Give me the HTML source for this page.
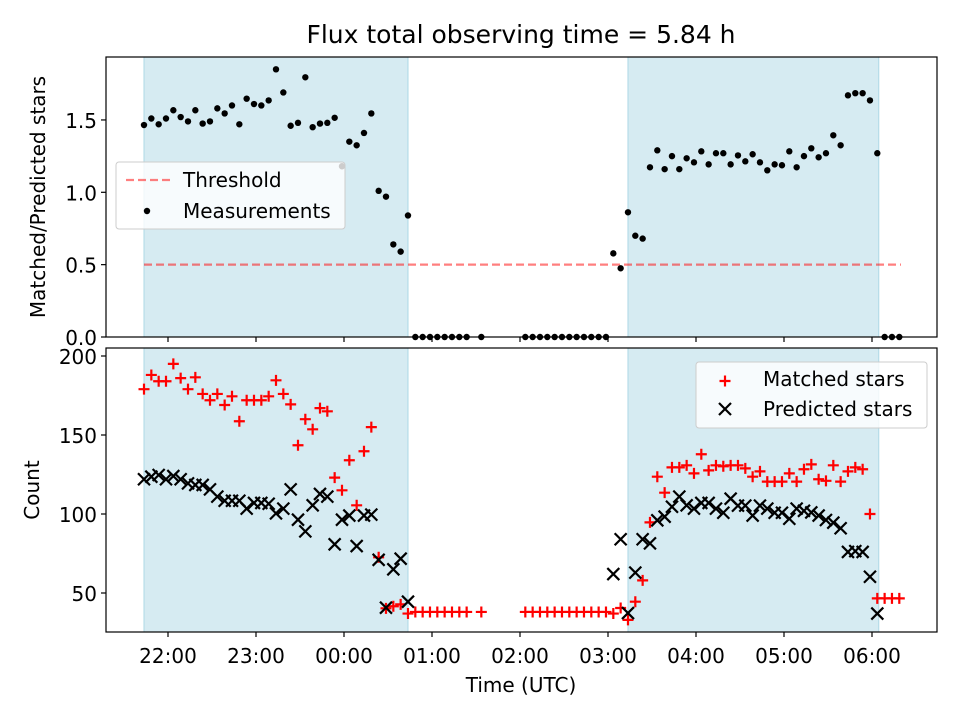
<!DOCTYPE html>
<html><head><meta charset="utf-8"><style>
html,body{margin:0;padding:0;background:#fff;}
svg text{font-family:"DejaVu Sans","Liberation Sans",sans-serif;fill:#000;}
</style></head><body>
<svg id="chart" width="960" height="720" xmlns="http://www.w3.org/2000/svg"></svg>
<script>
const N=null;
const ratio=[1.465,1.51,1.47,1.51,1.567,1.52,1.49,1.567,1.475,1.49,1.58,1.545,1.60,1.47,1.647,1.61,1.60,1.635,1.85,1.69,1.46,1.48,1.795,1.45,1.475,1.48,1.515,1.18,1.35,1.325,1.41,1.545,1.01,0.97,0.64,0.59,0.84,
0,0,0,0,0,0,0,0,N,0,N,N,N,N,N,0,0,0,0,0,0,0,0,0,0,0,0,
0.578,0.475,0.862,0.70,0.68,1.173,1.29,1.16,1.25,1.16,1.235,1.207,1.283,1.193,1.27,1.27,1.193,1.255,1.214,1.263,1.207,1.152,1.193,1.187,1.283,1.173,1.25,1.304,1.242,1.27,1.394,1.325,1.67,1.685,1.685,1.635,1.27,0,0,0];
const matched=[179,188,184,184,195,186,179,186.5,176,172,176,169,174.5,158.7,172,172,172,174.5,184.6,176,169.4,143.5,160,153.6,167,165,123,115,134,105.5,139.7,155,72.6,40.3,41.6,42.8,37,
38,38,38,38,38,38,38,38,N,38,N,N,N,N,N,38,38,38,38,38,38,38,38,38,38,38,38,
37,40.5,33,44.5,58,94.7,123.6,113.5,129.5,129.5,130.8,125.7,137.8,127.6,130.8,130.2,130.8,130.8,128.9,123.6,127,120.5,120.5,120.5,125.7,120.5,128.3,131.4,122,121,130.8,120.5,127,129.5,128.3,100,46.6,46.6,46.6,46.6];
const predicted=[122,123.6,124.7,122,124,122,119.4,118.4,118.4,115.6,111,108.4,108.4,108.4,103.4,107,107,106.5,100.4,103.4,115.6,96.4,89,105.5,112.7,111,80.8,96.4,99,79.7,99,99.6,71,40.7,65,71.7,44.5,
N,N,N,N,N,N,N,N,N,N,N,N,N,N,N,N,N,N,N,N,N,N,N,N,N,N,N,
62,84,37.3,62.9,84,81.4,96,98.3,104.6,111,105.5,103.4,107,107,103.4,100.8,109.7,105.3,105.3,99,105.3,103.4,100.8,100.8,97,103.4,102,101,99,96.2,94.5,91,76,76.5,76,60.3,37,N,N,N];
const hourTicks=["22:00","23:00","00:00","01:00","02:00","03:00","04:00","05:00","06:00"];
const topTicks=[0,0.5,1.0,1.5];
const botTicks=[50,100,150,200];
const threshold=0.5;
const shadeStart=[0,66];
const shadeEnd=[36,100.2];

const svg=document.getElementById('chart');
const NS="http://www.w3.org/2000/svg";
function mk(tag,attrs,parent){const e=document.createElementNS(NS,tag);for(const k in attrs)e.setAttribute(k,attrs[k]);(parent||svg).appendChild(e);return e;}
const L=106,R=937,T1=57,B1=337,T2=348,B2=632;
const FS=20;
function xIdx(i){return 144+i*7.333;}
function xHour(h){return 168+h*88;}
function yTop(v){return 337-v*144.7;}
function yBot(v){return 672-v*1.58;}

let t=mk('text',{x:521,y:43,'text-anchor':'middle','font-size':'25'});t.textContent='Flux total observing time = 5.84 h';



function panel(top,bot,name){
  const g=mk('g',{});
  
  
  for(let k=0;k<shadeStart.length;k++){
    const r=mk('rect',{x:xIdx(shadeStart[k]),y:top,width:xIdx(shadeEnd[k])-xIdx(shadeStart[k]),height:bot-top,fill:'#add8e6','fill-opacity':0.5,stroke:'#add8e6','stroke-width':1},g);
    
    
  }
  return g;
}
const gTop=panel(T1,B1,'ratio-panel');
const gBot=panel(T2,B2,'count-panel');

let th=mk('line',{x1:144,x2:901,y1:yTop(threshold),y2:yTop(threshold),stroke:'#ff0000','stroke-opacity':0.5,'stroke-width':2.2,'stroke-dasharray':'8,4'},gTop);



ratio.forEach((v,i)=>{if(v===null)return;
  const c=mk('circle',{cx:xIdx(i),cy:yTop(v),r:3.2,fill:'#000'},gTop);
  
  
});
matched.forEach((v,i)=>{if(v===null)return;
  const x=xIdx(i),y=yBot(v);
  const p=mk('path',{d:`M${x-5.5},${y}H${x+5.5}M${x},${y-5.5}V${y+5.5}`,stroke:'#ff0000','stroke-width':2.2,fill:'none'},gBot);
  
  
});
predicted.forEach((v,i)=>{if(v===null)return;
  const x=xIdx(i),y=yBot(v);
  const p=mk('path',{d:`M${x-6},${y-6}L${x+6},${y+6}M${x-6},${y+6}L${x+6},${y-6}`,stroke:'#000','stroke-width':2.2,fill:'none'},gBot);
  
  
});

[[T1,B1,'ratio-axes-frame'],[T2,B2,'count-axes-frame']].forEach(([a,b,n])=>{
  const r=mk('rect',{x:L,y:a,width:R-L,height:b-a,fill:'none',stroke:'#000','stroke-width':1.2});
  
  
});
hourTicks.forEach((lab,k)=>{
  const x=xHour(k);
  [B1,B2].forEach(b=>{mk('line',{x1:x,x2:x,y1:b,y2:b+5,stroke:'#000','stroke-width':1.2});});
  const tx=mk('text',{x:x,y:663,'text-anchor':'middle','font-size':FS});tx.textContent=lab;
  
  
});
topTicks.forEach(v=>{
  const y=yTop(v);
  mk('line',{x1:L-5,x2:L,y1:y,y2:y,stroke:'#000','stroke-width':1.2});
  const tx=mk('text',{x:L-9,y:y+8,'text-anchor':'end','font-size':FS});tx.textContent=v.toFixed(1);
  
  
});
botTicks.forEach(v=>{
  const y=yBot(v);
  mk('line',{x1:L-5,x2:L,y1:y,y2:y,stroke:'#000','stroke-width':1.2});
  const tx=mk('text',{x:L-9,y:y+8,'text-anchor':'end','font-size':FS});tx.textContent=v;
  
  
});
let xl=mk('text',{x:521,y:692,'text-anchor':'middle','font-size':FS});xl.textContent='Time (UTC)';


let yl1=mk('text',{x:0,y:0,'text-anchor':'middle','font-size':FS,transform:'translate(45,197) rotate(-90)'});yl1.textContent='Matched/Predicted stars';


let yl2=mk('text',{x:0,y:0,'text-anchor':'middle','font-size':FS,transform:'translate(39,490) rotate(-90)'});yl2.textContent='Count';



const lg1=mk('g',{});


mk('rect',{x:116,y:162,width:229,height:67,rx:3,fill:'#fff','fill-opacity':0.8,stroke:'#ccc'},lg1);
mk('line',{x1:126,x2:170,y1:180,y2:180,stroke:'#ff0000','stroke-opacity':0.5,'stroke-width':2.2,'stroke-dasharray':'8,4'},lg1);
let l1=mk('text',{x:183,y:187,'font-size':FS},lg1);l1.textContent='Threshold';


mk('circle',{cx:147,cy:211,r:3.2,fill:'#000'},lg1);
let l2=mk('text',{x:183,y:218,'font-size':FS},lg1);l2.textContent='Measurements';



const lg2=mk('g',{});


mk('rect',{x:696,y:362,width:231,height:66,rx:3,fill:'#fff','fill-opacity':0.8,stroke:'#ccc'},lg2);
mk('path',{d:'M719.5,381H730.5M725,375.5V386.5',stroke:'#ff0000','stroke-width':2.2},lg2);
let l3=mk('text',{x:763,y:386,'font-size':FS},lg2);l3.textContent='Matched stars';


mk('path',{d:'M719,403L731,415M719,415L731,403',stroke:'#000','stroke-width':2.2},lg2);
let l4=mk('text',{x:763,y:416,'font-size':FS},lg2);l4.textContent='Predicted stars';


</script>
</body></html>
